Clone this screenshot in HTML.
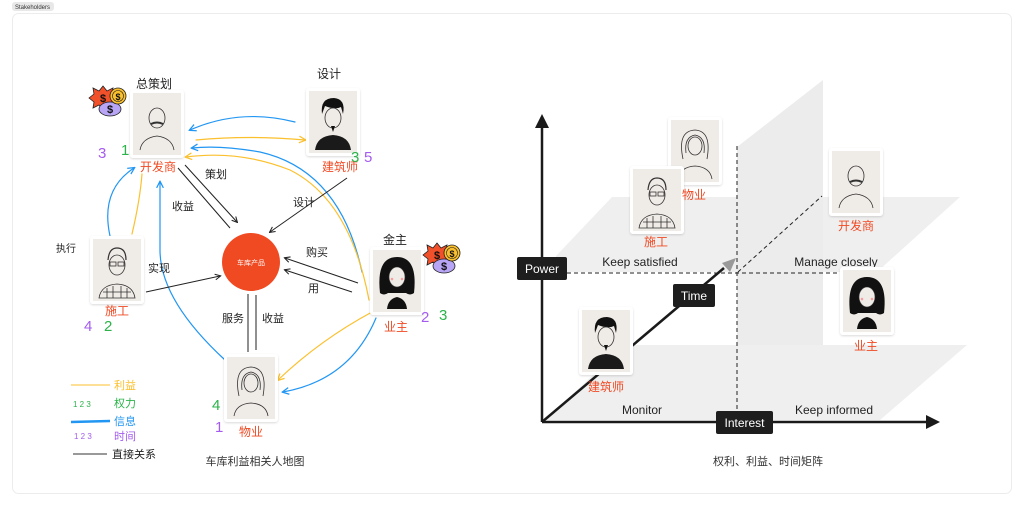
<!DOCTYPE html>
<html><head><meta charset="utf-8"><style>
html,body{margin:0;padding:0;background:#fff;}
body{width:1024px;height:507px;overflow:hidden;position:relative;font-family:"Liberation Sans","Noto Sans CJK SC",sans-serif;}
svg{position:absolute;left:0;top:0;}
</style></head><body>
<svg width="1024" height="507" viewBox="0 0 1024 507" xmlns="http://www.w3.org/2000/svg" font-family="Liberation Sans, Noto Sans CJK SC, sans-serif">
<defs>
<marker id="ab" viewBox="0 0 10 10" refX="8" refY="5" markerWidth="7" markerHeight="7" orient="auto"><path d="M1 1 L9 5 L1 9" fill="none" stroke="#2196f3" stroke-width="1.5"/></marker>
<marker id="ay" viewBox="0 0 10 10" refX="8" refY="5" markerWidth="7" markerHeight="7" orient="auto"><path d="M1 1 L9 5 L1 9" fill="none" stroke="#fbc02d" stroke-width="1.5"/></marker>
<marker id="ak" viewBox="0 0 10 10" refX="8" refY="5" markerWidth="7" markerHeight="7" orient="auto"><path d="M1 1 L9 5 L1 9" fill="none" stroke="#222" stroke-width="1.5"/></marker>
<filter id="sh" x="-20%" y="-20%" width="140%" height="140%"><feDropShadow dx="0" dy="1" stdDeviation="1" flood-color="#000" flood-opacity="0.15"/></filter>
<g id="card"><rect x="0" y="0" width="54" height="68" rx="3" fill="#fff" filter="url(#sh)"/><rect x="3" y="3" width="48" height="62" fill="#efebe7"/></g>
<g id="bald" fill="none" stroke="#333" stroke-width="0.8"><ellipse cx="27" cy="28" rx="8" ry="10"/><path d="M21 34 q6 -3 12 0" stroke-width="2"/><path d="M10 60 q2 -12 17 -14 q15 2 17 14"/></g>
<g id="man" ><path d="M16 26 q-2 -16 12 -16 q12 1 9 16 l-2 -7 q-6 3 -16 -1z" fill="#111"/><ellipse cx="27" cy="30" rx="8" ry="10" fill="#efebe7" stroke="#333" stroke-width="0.8"/><path d="M25 38 l2 6 l2 -6z" fill="#111"/><path d="M9 62 q2 -14 18 -15 q16 1 18 15z" fill="#1a1a1a"/></g>
<g id="old" fill="none" stroke="#333" stroke-width="0.8"><path d="M18 24 q1 -12 9 -12 q9 0 9 12" stroke-width="1.2"/><ellipse cx="27" cy="29" rx="8" ry="10"/><rect x="20" y="26" width="6" height="4"/><rect x="28" y="26" width="6" height="4"/><path d="M9 62 q2 -13 18 -14 q16 1 18 14z M13 56 h28 M17 52 v10 M23 50 v12 M31 50 v12 M37 52 v10"/></g>
<g id="woman"><path d="M10 46 q-4 -36 17 -36 q21 0 17 36 q-4 3 -8 0 l-18 0 q-4 3 -8 0z" fill="#111"/><ellipse cx="27" cy="30" rx="8" ry="10" fill="#efebe7" stroke="#333" stroke-width="0.6"/><circle cx="22" cy="32" r="1.3" fill="#f3a0a0"/><circle cx="32" cy="32" r="1.3" fill="#f3a0a0"/><path d="M17 62 q1 -10 10 -12 q9 2 10 12z" fill="#111"/></g>
<g id="curly" fill="none" stroke="#333" stroke-width="0.8"><path d="M15 42 q-6 -28 12 -29 q17 1 12 29"/><path d="M18 36 q-2 -16 9 -18 q11 2 9 18"/><ellipse cx="27" cy="29" rx="7" ry="9"/><path d="M10 62 q2 -12 17 -13 q15 1 17 13"/></g>
<g id="money"><polygon points="0,-12 4,-7 10,-10 9,-4 14,0 9,4 10,10 4,7 0,12 -4,7 -10,10 -9,4 -14,0 -9,-4 -10,-10 -4,-7" fill="#f0502a" stroke="#222" stroke-width="0.8"/><text x="0" y="4" font-size="11" font-weight="bold" text-anchor="middle" fill="#111">$</text><ellipse cx="7" cy="11" rx="11" ry="7" fill="#b8a5f5" stroke="#222" stroke-width="0.8"/><text x="7" y="15" font-size="11" font-weight="bold" text-anchor="middle" fill="#111">$</text><circle cx="15" cy="-2" r="8" fill="#fbc02d" stroke="#222" stroke-width="0.8"/><circle cx="15" cy="-2" r="5.5" fill="none" stroke="#222" stroke-width="0.6"/><text x="15" y="2" font-size="9" font-weight="bold" text-anchor="middle" fill="#111">$</text></g>
</defs>

<rect x="12" y="2" width="42" height="9" rx="3" fill="#e8e8e8"/>
<text x="15" y="9" font-size="6" fill="#333">Stakeholders</text>
<rect x="12.5" y="13.5" width="999" height="480" rx="6" fill="#fff" stroke="#ececec"/>

<g fill="none" stroke-width="1.2" stroke-linecap="round">
<path d="M295 122 Q240 108 190 130" stroke="#2196f3" marker-end="url(#ab)"/>
<path d="M196 140 Q250 135 305 140" stroke="#fbc02d" marker-end="url(#ay)"/>
<path d="M362 272 Q340 170 260 152 Q220 145 192 148" stroke="#2196f3" marker-end="url(#ab)"/>
<path d="M369 300 Q350 200 290 170 Q240 150 186 157" stroke="#fbc02d" marker-end="url(#ay)"/>
<path d="M110 236 Q100 190 134 168" stroke="#2196f3" marker-end="url(#ab)"/>
<path d="M132 234 Q140 200 142 174" stroke="#fbc02d"/>
<path d="M225 360 Q160 300 160 250 Q160 200 160 182" stroke="#2196f3" marker-end="url(#ab)"/>
<path d="M372 312 Q320 340 278 380" stroke="#fbc02d" marker-end="url(#ay)"/>
<path d="M376 318 Q350 380 283 392" stroke="#2196f3" marker-end="url(#ab)"/>
</g>
<g fill="none" stroke="#222" stroke-width="1">
<path d="M178 168 L230 228"/><path d="M185 165 L237 222" marker-end="url(#ak)"/>
<path d="M347 178 L270 232" marker-end="url(#ak)"/>
<path d="M146 292 L220 276" marker-end="url(#ak)"/>
<path d="M358 283 L285 258" marker-end="url(#ak)"/>
<path d="M352 292 L285 270" marker-end="url(#ak)"/>
<path d="M248 294 L248 352"/><path d="M256 295 L256 350"/>
</g>
<g font-size="11" fill="#222">
<text x="205" y="178">策划</text><text x="172" y="210">收益</text>
<text x="293" y="206">设计</text><text x="148" y="272">实现</text>
<text x="306" y="256">购买</text><text x="308" y="292">用</text>
<text x="222" y="322">服务</text><text x="262" y="322">收益</text>
<text x="136" y="88" font-size="12">总策划</text><text x="317" y="78" font-size="12">设计</text>
<text x="56" y="252" font-size="10">执行</text><text x="383" y="244" font-size="12">金主</text>
</g>
<circle cx="251" cy="262" r="29" fill="#f04a23"/>
<text x="251" y="265" font-size="7" fill="#fff" text-anchor="middle">车库产品</text>

<use href="#card" x="130" y="90"/><use href="#bald" x="130" y="90"/>
<use href="#card" x="306" y="88"/><use href="#man" x="306" y="88"/>
<use href="#card" x="90" y="236"/><use href="#old" x="90" y="236"/>
<use href="#card" x="370" y="247"/><use href="#woman" x="370" y="247"/>
<use href="#card" x="224" y="354"/><use href="#curly" x="224" y="354"/>
<use href="#money" x="103" y="98"/><use href="#money" x="437" y="255"/>
<g font-size="12" fill="#f04a23" text-anchor="middle">
<text x="158" y="171">开发商</text><text x="340" y="171">建筑师</text><text x="117" y="315">施工</text><text x="396" y="331">业主</text><text x="251" y="436">物业</text>
</g>
<g font-size="15">
<text x="98" y="158" fill="#a45cf0">3</text><text x="121" y="155" fill="#2bb34a">1</text>
<text x="351" y="162" fill="#2bb34a">3</text><text x="364" y="162" fill="#a45cf0">5</text>
<text x="84" y="331" fill="#a45cf0">4</text><text x="104" y="331" fill="#2bb34a">2</text>
<text x="421" y="322" fill="#a45cf0">2</text><text x="439" y="320" fill="#2bb34a">3</text>
<text x="212" y="410" fill="#2bb34a">4</text><text x="215" y="432" fill="#a45cf0">1</text>
</g>
<line x1="71" y1="385" x2="110" y2="385" stroke="#fbc02d" stroke-width="1"/><text x="114" y="389" font-size="11" fill="#fbc02d">利益</text>
<text x="73" y="407" font-size="8" fill="#2bb34a">1 2 3</text><text x="114" y="407" font-size="11" fill="#2bb34a">权力</text>
<line x1="71" y1="422" x2="110" y2="421" stroke="#2196f3" stroke-width="2.5"/><text x="114" y="425" font-size="11" fill="#2196f3">信息</text>
<text x="74" y="439" font-size="8" fill="#a45cf0">1 2 3</text><text x="114" y="440" font-size="11" fill="#a45cf0">时间</text>
<line x1="73" y1="454" x2="107" y2="454" stroke="#333" stroke-width="1"/><text x="112" y="458" font-size="11" fill="#222">直接关系</text>
<text x="255" y="465" font-size="11" fill="#333" text-anchor="middle">车库利益相关人地图</text>

<polygon points="737,147 823,80 823,345 737,345" fill="#ececec"/>
<polygon points="556,256 612,197 960,197 877,272 556,272" fill="#ececec" opacity="0.85"/>
<polygon points="545,420 625,345 967,345 880,420" fill="#ececec" opacity="0.85"/>
<line x1="542" y1="422" x2="542" y2="125" stroke="#1a1a1a" stroke-width="2.5"/>
<polygon points="535,128 549,128 542,114" fill="#1a1a1a"/>
<line x1="542" y1="422" x2="928" y2="422" stroke="#1a1a1a" stroke-width="2.5"/>
<polygon points="926,415 926,429 940,422" fill="#1a1a1a"/>
<line x1="542" y1="422" x2="724" y2="268" stroke="#1a1a1a" stroke-width="2.5"/>
<polygon points="722,263 730,272 736,258" fill="#999"/>
<line x1="567" y1="273" x2="875" y2="273" stroke="#222" stroke-dasharray="4,3"/>
<line x1="737" y1="146" x2="737" y2="411" stroke="#222" stroke-dasharray="4,3"/>
<line x1="738" y1="272" x2="822" y2="196" stroke="#222" stroke-dasharray="4,3"/>
<rect x="517" y="257" width="50" height="23" rx="2" fill="#1e1e1e"/><text x="542" y="273" font-size="12" fill="#fff" text-anchor="middle">Power</text>
<rect x="673" y="284" width="42" height="23" rx="2" fill="#1e1e1e"/><text x="694" y="300" font-size="12" fill="#fff" text-anchor="middle">Time</text>
<rect x="716" y="411" width="57" height="23" rx="2" fill="#1e1e1e"/><text x="744.5" y="427" font-size="12" fill="#fff" text-anchor="middle">Interest</text>
<g font-size="12" fill="#222" text-anchor="middle">
<text x="640" y="266">Keep satisfied</text><text x="836" y="266">Manage closely</text>
<text x="642" y="414">Monitor</text><text x="834" y="414">Keep informed</text>
</g>
<use href="#card" x="668" y="117"/><use href="#curly" x="668" y="117"/>
<use href="#card" x="630" y="166"/><use href="#old" x="630" y="166"/>
<use href="#card" x="829" y="148"/><use href="#bald" x="829" y="148"/>
<use href="#card" x="840" y="267"/><use href="#woman" x="840" y="267"/>
<use href="#card" x="579" y="307"/><use href="#man" x="579" y="307"/>
<g font-size="12" fill="#f04a23" text-anchor="middle">
<text x="694" y="199">物业</text><text x="656" y="246">施工</text><text x="856" y="230">开发商</text><text x="866" y="350">业主</text><text x="606" y="391">建筑师</text>
</g>
<text x="768" y="465" font-size="11" fill="#333" text-anchor="middle">权利、利益、时间矩阵</text>
</svg>
</body></html>
